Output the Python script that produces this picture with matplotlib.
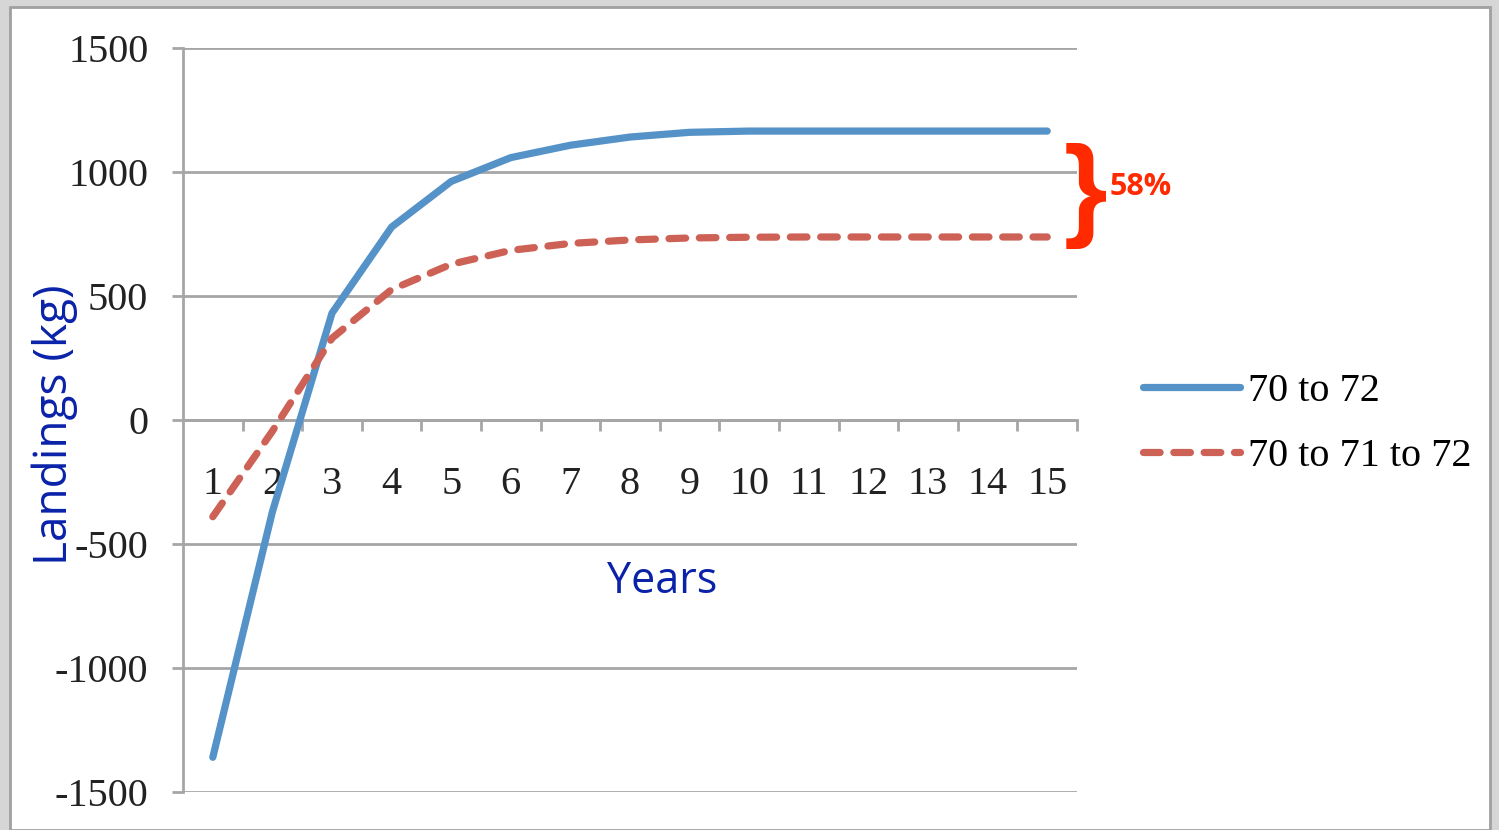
import numpy as np
import matplotlib
matplotlib.use('Agg')
import matplotlib.pyplot as plt
from matplotlib.patches import Rectangle

years = list(range(1, 16))
direct = [-1360, -370, 431, 778, 962, 1058, 1108, 1141, 1160, 1165, 1165, 1165, 1165, 1165, 1165]
stepped = [-390, -45, 330, 526, 628, 684, 712, 726, 734, 737, 738, 738, 738, 738, 738]
series_names = ['70 to 72', '70 to 71 to 72']
yticks = [-1500, -1000, -500, 0, 500, 1000, 1500]

blue = '#5592C8'
red = '#CD6155'
grid_c = '#A6A6A6'
serif = 'Liberation Serif'
fs = 29

fig = plt.figure(figsize=(14.99, 8.30), dpi=100)
fig.patch.set_facecolor('#D6D6D6')
# white slide panel
fig.patches.append(Rectangle((10/1499, 0), 1480/1499, 1-7/830, transform=fig.transFigure,
                             facecolor='white', edgecolor='#A0A0A0', lw=2, zorder=-5))

ax = fig.add_axes([183/1499, 1-792/830, 894/1499, 744/830])
ax.set_facecolor('none')
ax.set_zorder(2)

ax.plot(years, direct, color=blue, lw=5.2, solid_capstyle='round', label=series_names[0], zorder=3)
ax.plot(years, stepped, color=red, lw=5.2, dashes=(2.3, 1.9), dash_capstyle='round',
        label=series_names[1], zorder=3)

ax.set_xlim(0.5, 15.5)
ax.set_ylim(-1500, 1500)
ax.set_yticks(yticks)
ax.set_yticklabels([str(v) for v in yticks], fontfamily=serif, fontsize=fs, color='#222222')
ax.yaxis.grid(True, color=grid_c, lw=2)
ax.set_axisbelow(True)

for s in ['top', 'right']:
    ax.spines[s].set_visible(False)
ax.spines['left'].set_color(grid_c)
ax.spines['left'].set_linewidth(2)
ax.spines['bottom'].set_position(('data', 0))
ax.spines['bottom'].set_color(grid_c)
ax.spines['bottom'].set_linewidth(2)

ax.tick_params(axis='y', length=8, width=2, color=grid_c, pad=17)
ax.set_xticks(years)
ax.set_xticklabels([str(y) for y in years], fontfamily=serif, fontsize=fs, color='#222222')
ax.set_xticks(np.arange(1.5, 16, 1), minor=True)
ax.tick_params(axis='x', which='major', length=0, pad=33)
ax.tick_params(axis='x', which='minor', length=8, width=2, color=grid_c, direction='out')

ax.text(0.536, 0.282, 'Years', transform=ax.transAxes, ha='center', va='center',
        fontfamily='Open Sans', fontsize=31, color='#0A22A8')
fig.text(55/1499, 1-425/830, 'Landings (kg)', rotation=90, ha='center', va='center',
         fontfamily='Open Sans', fontsize=33, color='#0A22A8')

# bracket showing the gap between the plateaus
ax.text(15.28, (direct[-1] + stepped[-1]) / 2 - 50, '}', ha='left', va='center',
        fontfamily='Liberation Sans', fontweight='bold', fontsize=81, color='#FF2A00', clip_on=False)
ax.text(16.05, 940, '58%', ha='left', va='center', fontfamily='Open Sans', fontweight='bold',
        fontsize=22, color='#FF2A00', clip_on=False)

leg = ax.legend(loc='center left', bbox_to_anchor=(1107/1499, 1-424/830), bbox_transform=fig.transFigure,
                frameon=False, handlelength=2.4, handletextpad=0.2, labelspacing=0.7,
                prop={'family': serif, 'size': fs})

fig.savefig('out.png', dpi=100, facecolor=fig.get_facecolor())
